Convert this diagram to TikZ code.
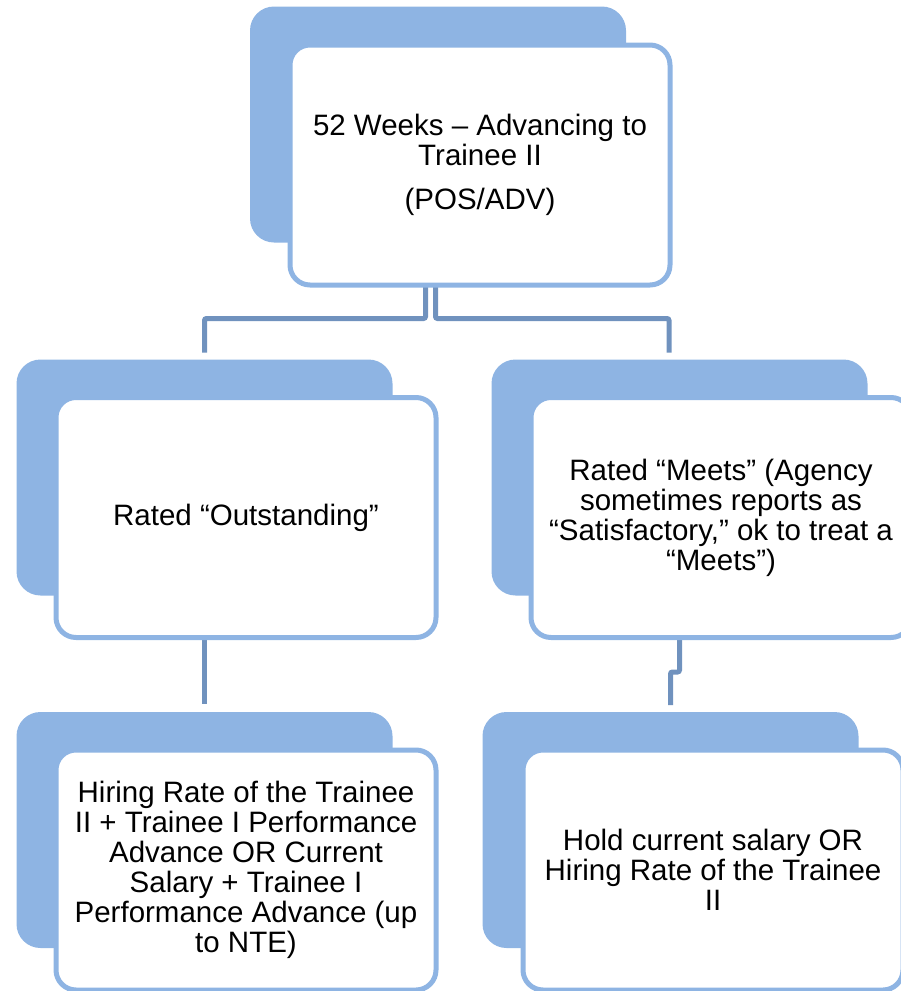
\documentclass[tikz,border=0pt]{standalone}
\usepackage{fontspec}
\setmainfont{Liberation Sans}
\usetikzlibrary{calc}
\definecolor{boxblue}{HTML}{8EB4E3}
\definecolor{linkblue}{HTML}{7092BE}
\begin{document}
\begin{tikzpicture}[x=1pt,y=-1pt,
  backbox/.style={fill=boxblue, draw=none, rounded corners=24pt, inner sep=0pt, outer sep=0pt,
    minimum width=376pt, minimum height=236pt},
  frontbox/.style={fill=white, draw=boxblue, line width=5pt, rounded corners=20pt, inner sep=0pt, outer sep=0pt,
    minimum width=380pt, minimum height=240pt, align=center,
    font=\fontsize{29.5pt}{30pt}\selectfont},
  link/.style={draw=linkblue, line width=5pt, rounded corners=2pt},
]
\useasboundingbox (0,0) rectangle (901,991);
\clip (0,0) rectangle (901,991);

% back plates of each card
\node[backbox] (tback)  at (438,124.5) {};
\node[backbox] (lback)  at (204.5,477.5) {};
\node[backbox] (rback)  at (679.5,477.5) {};
\node[backbox] (blback) at (204.5,830) {};
\node[backbox] (brback) at (670.5,830) {};

% connectors, drawn beneath the white cards
\coordinate (tl) at (425.5,285);
\coordinate (tr) at (435.5,285);
\draw[link] (tl) |- ($(lback.north)+(0,-41)$) -- ($(lback.north)+(0,-7)$);
\draw[link] (tr) |- ($(rback.north)+(-10.5,-41)$) -- ($(rback.north)+(-10.5,-7)$);
\draw[link] (lback.south) -- ($(blback.north)+(0,-8)$);
\draw[link] (rback.south) |- ($(brback.north)+(0,-40)$) -- ($(brback.north)+(0,-7)$);

% front cards
\node[frontbox] (tfront) at (480,165)
  {52 Weeks -- Advancing to\\ Trainee II\\[14pt] (POS/ADV)};
\node[frontbox] (lfront) at (246,517.5)
  {Rated “Outstanding”};
\node[frontbox] (rfront) at (721,517.5)
  {Rated “Meets” (Agency\\ sometimes reports as\\ “Satisfactory,” ok to treat a\\ “Meets”)};
\node[frontbox] (blfront) at (246,870)
  {Hiring Rate of the Trainee\\ II + Trainee I Performance\\ Advance OR Current\\ Salary + Trainee I\\ Performance Advance (up\\ to NTE)};
\node[frontbox] (brfront) at (713,870)
  {Hold current salary OR\\ Hiring Rate of the Trainee\\ II};
\end{tikzpicture}
\end{document}
